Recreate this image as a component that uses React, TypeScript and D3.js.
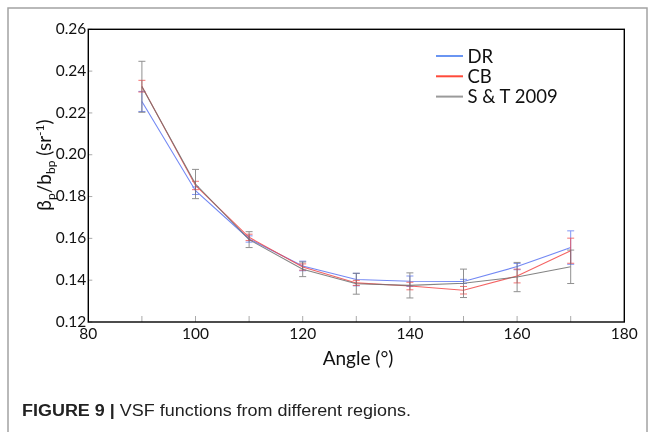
import React from "react";
import * as d3 from "d3";

const angles = [90, 100, 110, 120, 130, 140, 150, 160, 170];
const drValues = [0.2255, 0.1828, 0.1597, 0.1468, 0.1403, 0.1395, 0.1394, 0.1465, 0.1556];
const drErrors = [0.0048, 0.0018, 0.0015, 0.0023, 0.003, 0.0025, 0.001, 0.0015, 0.008];
const cbValues = [0.2328, 0.1853, 0.1605, 0.1463, 0.1387, 0.1372, 0.1352, 0.142, 0.1541];
const cbErrors = [0.0028, 0.002, 0.0015, 0.0015, 0.0012, 0.0018, 0.0018, 0.0033, 0.006];
const stValues = [0.2325, 0.186, 0.1594, 0.1452, 0.1383, 0.1375, 0.1385, 0.1415, 0.1464];
const stErrors = [0.0122, 0.007, 0.0038, 0.0035, 0.005, 0.006, 0.0068, 0.007, 0.008];

const xTickLabels = [80, 100, 120, 140, 160, 180];
const xMinorTicks = [90, 100, 110, 120, 130, 140, 150, 160, 170];
const yTickLabels = [0.12, 0.14, 0.16, 0.18, 0.2, 0.22, 0.24, 0.26];

const seriesNames = ["DR", "CB", "S & T 2009"];
const lineColors = ["#5b74f2", "#f24848", "#6e6e6e"];
const legendColors = ["#6a95f2", "#ff4a3a", "#9a9a9a"];

const W = 655;
const H = 432;
const left = 88.3;
const right = 624.3;
const top = 29.3;
const bottom = 322;

export default function App() {
  const x = d3.scaleLinear().domain([80, 180]).range([left, right]);
  const y = d3.scaleLinear().domain([0.12, 0.26]).range([bottom, top]);
  const line = d3
    .line<[number, number]>()
    .x((d) => x(d[0]))
    .y((d) => y(d[1]));

  const series = [
    { vals: drValues, errs: drErrors },
    { vals: cbValues, errs: cbErrors },
    { vals: stValues, errs: stErrors },
  ];
  const font = "Lato, 'Open Sans', sans-serif";
  const cap = 3.5;

  return (
    <svg
      width={W}
      height={H}
      style={{ position: "absolute", left: 0, top: 0 }}
      xmlns="http://www.w3.org/2000/svg"
    >
      <rect x={0} y={0} width={W} height={H} fill="#fff" />
      <rect x={8} y={8} width={639} height={440} fill="none" stroke="#a3a3a3" strokeWidth={1.5} />

      {/* minor x ticks */}
      {xMinorTicks.map((t) => (
        <line key={"xt" + t} x1={x(t)} x2={x(t)} y1={bottom} y2={bottom - 6} stroke="#aaa" strokeWidth={1} />
      ))}
      {yTickLabels.map((t) => (
        <line key={"yt" + t} x1={left} x2={left + 4} y1={y(t)} y2={y(t)} stroke="#aaa" strokeWidth={1} />
      ))}

      {/* series */}
      {series.map((s, si) => (
        <g key={"s" + si} opacity={0.85}>
          <path
            d={line(angles.map((a, i) => [a, s.vals[i]] as [number, number])) || ""}
            fill="none"
            stroke={lineColors[si]}
            strokeWidth={1.1}
          />
          {angles.map((a, i) => {
            const cx = x(a);
            const y1 = y(s.vals[i] + s.errs[i]);
            const y2 = y(s.vals[i] - s.errs[i]);
            return (
              <g key={i} stroke={lineColors[si]} strokeWidth={1} opacity={0.9}>
                <line x1={cx} x2={cx} y1={y1} y2={y2} />
                <line x1={cx - cap} x2={cx + cap} y1={y1} y2={y1} />
                <line x1={cx - cap} x2={cx + cap} y1={y2} y2={y2} />
              </g>
            );
          })}
        </g>
      ))}

      {/* frame */}
      <rect x={left} y={top} width={right - left} height={bottom - top} fill="none" stroke="#000" strokeWidth={1.4} />

      {/* tick labels */}
      {yTickLabels.map((t) => (
        <text
          key={"yl" + t}
          x={left - 2}
          y={y(t) - 1}
          dy="0.36em"
          textAnchor="end"
          fontFamily={font}
          fontSize={15.5}
          fill="#111"
        >
          {t.toFixed(2)}
        </text>
      ))}
      {xTickLabels.map((t) => (
        <text
          key={"xl" + t}
          x={x(t)}
          y={bottom + 17}
          textAnchor="middle"
          fontFamily={font}
          fontSize={15.5}
          fill="#111"
        >
          {t}
        </text>
      ))}

      {/* axis titles */}
      <text x={358} y={365} textAnchor="middle" fontFamily={font} fontSize={19} fill="#111">
        Angle (°)
      </text>
      <text
        transform={`translate(51,${165}) rotate(-90)`}
        textAnchor="middle"
        fontFamily={font}
        fontSize={19}
        fill="#111"
      >
        <tspan>β</tspan>
        <tspan fontSize={12} dy={4}>p</tspan>
        <tspan dy={-4}>/b</tspan>
        <tspan fontSize={12} dy={4}>bp</tspan>
        <tspan dy={-4}> (sr</tspan>
        <tspan fontSize={12} dy={-7}>-1</tspan>
        <tspan dy={7}>)</tspan>
      </text>

      {/* legend */}
      {seriesNames.map((n, i) => (
        <g key={"lg" + i}>
          <line x1={436} x2={463} y1={56 + i * 20.3} y2={56 + i * 20.3} stroke={legendColors[i]} strokeWidth={2} />
          <text x={467.5} y={56 + i * 20.3} dy="0.36em" fontFamily={font} fontSize={18.5} fill="#111">
            {n}
          </text>
        </g>
      ))}

      {/* caption */}
      <text
        x={22}
        y={416}
        fontFamily="'Liberation Sans', Arial, sans-serif"
        fontSize={16}
        fill="#222"
        textLength={389}
        lengthAdjust="spacingAndGlyphs"
      >
        <tspan fontWeight="bold">FIGURE 9 | </tspan>
        <tspan>VSF functions from different regions.</tspan>
      </text>
    </svg>
  );
}
